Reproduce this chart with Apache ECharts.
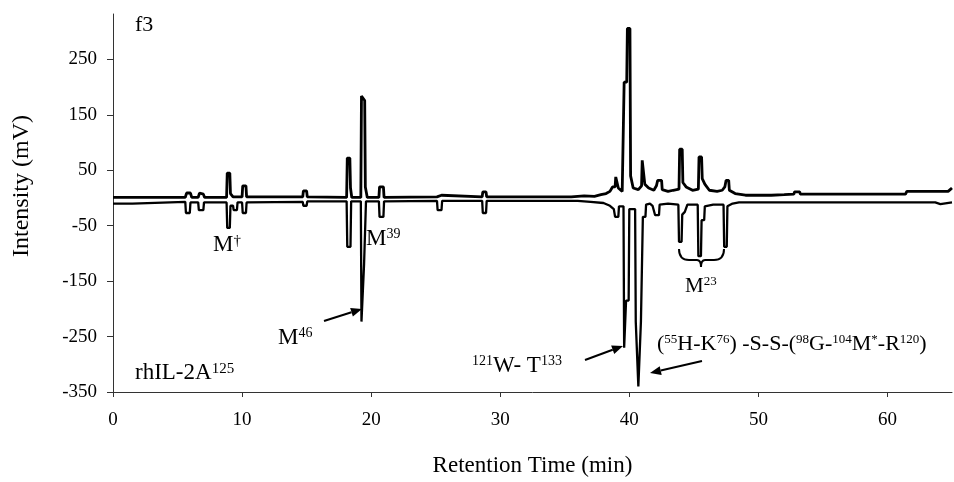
<!DOCTYPE html>
<html>
<head>
<meta charset="utf-8">
<script src="https://cdn.jsdelivr.net/npm/echarts@6/dist/echarts.min.js"></script>
<style>
html,body{margin:0;padding:0;background:#fff;}
#chart{width:954px;height:482px;}
</style>
</head>
<body>
<div id="chart"></div>
<script>
// ---- data (retention time in min, intensity in mV) ----
const xTicks = [0, 10, 20, 30, 40, 50, 60];
const yTicks = [-350, -250, -150, -50, 50, 150, 250];

// upper trace (sample f3)
const upperTrace = [
  [0,1],[5.6,1],[5.7,9],[6.0,9],[6.1,1],[6.6,1],[6.7,9],[7.0,7],[7.1,1],
  [8.8,1],[8.85,45],[9.05,45],[9.1,8],[9.3,2],[10.0,2],[10.05,22],[10.3,22],[10.35,2],
  [14.7,2],[14.75,13],[15.0,13],[15.05,2],
  [18.1,1],[18.15,72],[18.35,72],[18.4,18],[18.5,1],
  [19.2,1],[19.25,184],[19.5,176],[19.55,20],[19.7,1],
  [20.6,1],[20.65,20],[20.95,20],[21.0,1],
  [25.1,2],[25.15,5],[25.45,5],[25.5,2],
  [28.6,2],[28.65,11],[28.9,11],[28.95,2],
  [35.5,2],[36.5,4],[37.3,3],[37.8,6],[38.2,8],[38.5,12],[38.7,20],[38.9,20],[38.95,38],[39.1,38],[39.15,18],[39.45,12],[39.55,12],
  [39.6,209],[39.8,209],[39.85,306],[40.05,306],[40.1,40],[40.3,18],[40.7,15],[40.95,22],
  [41.0,68],[41.15,68],[41.2,25],[41.5,18],[41.9,14],[42.1,22],[42.2,32],[42.5,32],[42.55,15],[43.0,12],[43.4,14],[43.85,16],
  [43.9,88],[44.1,88],[44.15,28],[44.4,20],[44.9,14],[45.35,16],
  [45.4,74],[45.6,74],[45.65,35],[45.85,25],[46.2,14],[46.8,12],[47.2,14],[47.4,20],
  [47.5,32],[47.7,32],[47.75,14],[48.2,8],[49.0,5],[51.0,5],[52.0,6],[52.75,7],
  [52.8,11],[53.2,11],[53.25,7],[61.4,7],[61.5,12],[64.7,12],[64.9,16],[65,18]
];

// lower (inverted) trace (reference rhIL-2A125)
const lowerTrace = [
  [0,-10],[1.5,-10],[1.6,-7],[5.6,-7],[5.65,-27],[5.95,-27],[6.0,-8],[6.6,-8],[6.65,-22],[7.0,-22],[7.05,-8],
  [8.8,-8],[8.85,-54],[9.05,-54],[9.1,-14],[9.3,-14],[9.35,-22],[9.6,-22],[9.65,-8],
  [10.0,-8],[10.05,-27],[10.3,-27],[10.35,-8],
  [14.7,-7],[14.75,-14],[15.0,-14],[15.05,-6],
  [18.1,-6],[18.15,-88],[18.4,-88],[18.45,-6],
  [19.2,-6],[19.25,-223],[19.4,-223],[19.45,-120],[19.55,-120],[19.6,-6],
  [20.6,-6],[20.65,-34],[20.95,-34],[21.0,-6],
  [25.1,-5],[25.15,-22],[25.45,-22],[25.5,-5],
  [28.6,-5],[28.65,-27],[28.9,-27],[28.95,-5],
  [36.0,-5],[37.0,-7],[38.0,-9],[38.5,-14],[38.8,-20],[38.9,-34],[39.15,-34],[39.2,-15],[39.55,-15],
  [39.6,-270],[39.7,-270],[39.75,-185],[39.95,-185],[40.0,-20],[40.45,-20],
  [40.5,-223],[40.65,-223],[40.7,-340],[40.85,-340],[40.9,-223],[41.0,-223],[41.05,-34],[41.25,-34],[41.3,-12],
  [41.6,-10],[41.8,-14],[42.0,-31],[42.3,-31],[42.35,-12],[43.0,-10],[43.8,-12],
  [43.85,-79],[44.05,-79],[44.1,-30],[44.3,-25],[44.5,-12],[45.3,-12],
  [45.35,-105],[45.55,-105],[45.6,-40],[45.8,-40],[45.85,-15],[46.5,-12],[47.3,-12],
  [47.35,-88],[47.55,-88],[47.6,-15],[48.0,-10],[48.5,-8],[63.7,-8],[63.75,-11],[64.1,-11],[64.15,-8],[65,-8]
];

const FONT = '"Liberation Serif", "Times New Roman", serif';

function label(x, y, richText, size, supSize) {
  return {
    type: 'text', x: x, y: y, silent: true,
    style: {
      text: richText, fill: '#000', fontFamily: FONT, fontSize: size,
      verticalAlign: 'middle', align: 'left',
      rich: {
        m: { fontSize: size, fontFamily: FONT, fill: '#000' },
        s: { fontSize: supSize, fontFamily: FONT, fill: '#000', verticalAlign: 'top' }
      }
    }
  };
}

function arrow(x1, y1, x2, y2) {
  const ang = Math.atan2(y2 - y1, x2 - x1);
  const L = 11, W = 4.5;
  const bx = x2 - L * Math.cos(ang), by = y2 - L * Math.sin(ang);
  const px = -Math.sin(ang) * W, py = Math.cos(ang) * W;
  return {
    type: 'group', silent: true,
    children: [
      { type: 'line', shape: { x1: x1, y1: y1, x2: bx, y2: by }, style: { stroke: '#000', lineWidth: 2 } },
      { type: 'polygon', shape: { points: [[x2, y2], [bx + px, by + py], [bx - px, by - py]] }, style: { fill: '#000' } }
    ]
  };
}

function curve(x1, y1, cx, cy, x2, y2) {
  return { type: 'bezierCurve', silent: true,
    shape: { x1: x1, y1: y1, cpx1: cx, cpy1: cy, x2: x2, y2: y2 },
    style: { stroke: '#000', lineWidth: 2, fill: null } };
}
function seg(x1, y1, x2, y2) {
  return { type: 'line', silent: true, shape: { x1: x1, y1: y1, x2: x2, y2: y2 },
    style: { stroke: '#000', lineWidth: 2 } };
}

const chart = echarts.init(document.getElementById('chart'), null, { renderer: 'canvas' });

const option = {
  animation: false,
  backgroundColor: '#fff',
  grid: { left: 113, right: 2, top: 14, bottom: 90, containLabel: false },
  xAxis: {
    type: 'value', min: 0, max: 65, interval: 10,
    name: 'Retention Time (min)', nameLocation: 'middle', nameGap: 62,
    nameTextStyle: { fontFamily: FONT, fontSize: 23, color: '#000' },
    axisLine: { show: true, onZero: false, lineStyle: { color: '#333', width: 1 } },
    axisTick: { show: true, length: 5, lineStyle: { color: '#333' }, customValues: xTicks },
    axisLabel: { fontFamily: FONT, fontSize: 19, color: '#000', margin: 19, customValues: xTicks },
    splitLine: { show: false }
  },
  yAxis: {
    type: 'value', min: -350, max: 332, interval: 100,
    axisLine: { show: true, onZero: false, lineStyle: { color: '#333', width: 1 } },
    axisTick: { show: true, length: 6, lineStyle: { color: '#333' }, customValues: yTicks },
    axisLabel: { fontFamily: FONT, fontSize: 19, color: '#000', margin: 16, customValues: yTicks },
    splitLine: { show: false }
  },
  series: [
    {
      type: 'line', name: 'f3', data: upperTrace, showSymbol: false,
      lineStyle: { color: '#000', width: 2.8 }, z: 3
    },
    {
      type: 'line', name: 'rhIL-2A125', data: lowerTrace, showSymbol: false,
      lineStyle: { color: '#000', width: 2.3 }, z: 2
    }
  ],
  graphic: [
    { type: 'text', x: 22, y: 186, rotation: Math.PI / 2, silent: true,
      style: { text: 'Intensity (mV)', fontFamily: FONT, fontSize: 24, fill: '#000', align: 'center', verticalAlign: 'middle' } },
    label(135, 25, '{m|f3}', 22, 14),
    label(213, 245, '{m|M}{s|†}', 23, 15),
    label(366, 239, '{m|M}{s|39}', 23, 14),
    label(278, 338, '{m|M}{s|46}', 23, 14),
    label(135, 373, '{m|rhIL-2A}{s|125}', 23, 15),
    label(472, 366, '{s|121}{m|W- T}{s|133}', 23, 14),
    label(657, 344, '{m|(}{s|55}{m|H-K}{s|76}{m|) -S-S-(}{s|98}{m|G-}{s|104}{m|M}{s|*}{m|-R}{s|120}{m|)}', 22, 13),
    label(685, 286, '{m|M}{s|23}', 21, 13),
    arrow(324, 321, 362, 309),
    arrow(585, 360, 623, 346),
    arrow(702, 361, 650, 373),
    curve(679, 249, 679, 260, 689, 260),
    seg(689, 260, 697, 260),
    curve(697, 260, 701, 260, 701, 267),
    curve(701, 267, 701, 260, 705, 260),
    seg(705, 260, 714, 260),
    curve(714, 260, 724, 260, 724, 249)
  ]
};

chart.setOption(option);
</script>
</body>
</html>
